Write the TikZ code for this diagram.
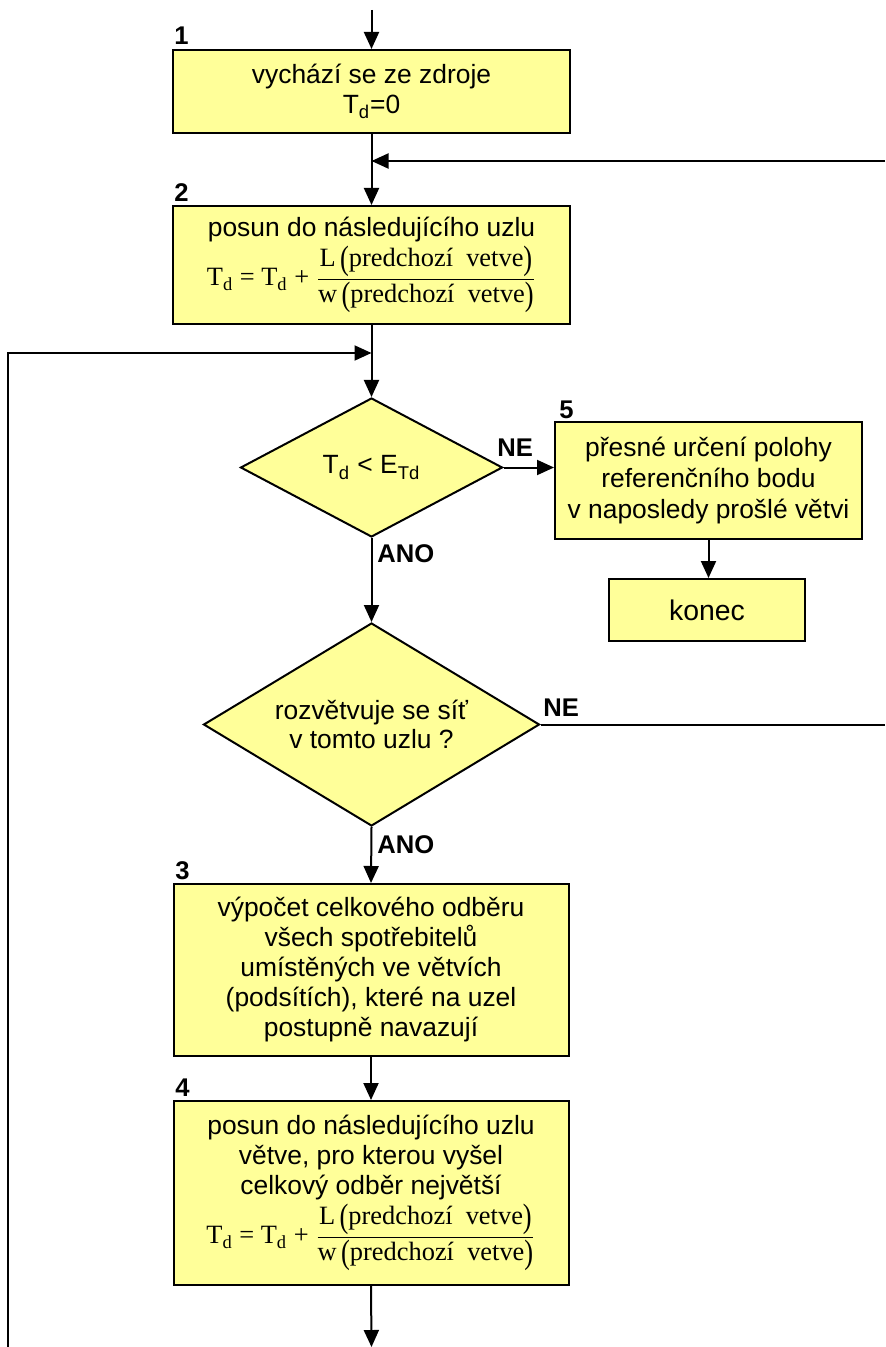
\documentclass[tikz,border=0pt]{standalone}
\usepackage{fontspec}
\usepackage{graphicx}
\setmainfont{Liberation Sans}
\newfontfamily\tnr{Liberation Serif}
\usetikzlibrary{shapes.geometric,arrows.meta}
\definecolor{boxfill}{RGB}{255,255,153}

% taller parentheses for the fraction
\newcommand\bpar[1]{\raisebox{-0.12em}{\scalebox{1}[1.28]{#1}}}
% T_d = T_d + L(...)/w(...)
\newcommand\tdformula{$\displaystyle\hbox{\tnr T\textsubscript{d} = T\textsubscript{d} + }%
\frac{\hbox{\tnr L\,\bpar{(}predchozí\enspace vetve\bpar{)}}\rule[-2.5pt]{0pt}{1pt}}%
{\hbox{\tnr w\,\bpar{(}predchozí\enspace vetve\bpar{)}}}$}

\tikzset{
  proc/.style={draw, line width=1pt, fill=boxfill, rectangle, inner sep=0pt,
    align=center, font=\fontsize{13.2}{15}\selectfont},
  dec/.style={draw, line width=1pt, fill=boxfill, diamond, inner sep=0pt,
    align=center, font=\fontsize{13.2}{14.6}\selectfont},
  arr/.style={-{Triangle[length=8.5pt,width=7.5pt]}, line width=1pt},
  flow/.style={line width=1pt},
  lbl/.style={font=\fontsize{12.8}{14}\selectfont\bfseries, inner sep=0pt, anchor=base west},
}

\begin{document}
\begin{tikzpicture}[x=0.5pt,y=-0.5pt]
\useasboundingbox (0,0) rectangle (885,1347);

% process boxes
\node[proc, minimum width=198.5pt, minimum height=41.5pt] (b1) at (371.5,91.5)
  {vychází se ze zdroje\\T\textsubscript{d}=0};
\node[proc, minimum width=198.5pt, minimum height=59pt] (b2) at (371.5,265)
  {posun do následujícího uzlu\\[1pt]\tdformula};
\node[proc, minimum width=197.5pt, minimum height=86pt] (b3) at (371,970)
  {výpočet celkového odběru\\všech spotřebitelů\\umístěných ve větvích\\(podsítích), které na uzel\\postupně navazují};
\node[proc, minimum width=197.5pt, minimum height=92pt] (b4) at (371,1193)
  {posun do následujícího uzlu\\větve, pro kterou vyšel\\celkový odběr největší\\[1pt]\tdformula};
\node[proc, minimum width=153.5pt, minimum height=58.5pt, font=\fontsize{13.2}{15.5}\selectfont] (b5) at (708.5,480.5)
  {přesné určení polohy\\referenčního bodu\\v naposledy prošlé větvi};
\node[proc, minimum width=98pt, minimum height=31pt, font=\fontsize{14.2}{16}\selectfont] (end) at (707,610)
  {konec};

% decisions
\node[dec, minimum width=131pt, minimum height=69.5pt, aspect=1.885] (d1) at (371.5,467.5)
  {T\textsubscript{d} < E\textsubscript{Td}};
\node[dec, minimum width=168pt, minimum height=101.5pt, aspect=1.655] (d2) at (371.5,724.5)
  {rozvětvuje se síť\\v tomto uzlu ?};

% step numbers
\node[lbl] (n1) at (174,45) {1};
\node[lbl] (n2) at (174,202) {2};
\node[lbl] (n3) at (175,879) {3};
\node[lbl] (n4) at (175,1096) {4};
\node[lbl] (n5) at (559,418) {5};

% branch labels
\node[lbl] (ne1) at (497,457) {NE};
\node[lbl] (ano1) at (377,562) {ANO};
\node[lbl] (ne2) at (543,716) {NE};
\node[lbl] (ano2) at (377,853) {ANO};

% free ends of connectors
\coordinate (top) at (371.5,10);
\coordinate (rin) at (885,161);
\coordinate (j1) at (371.5,161);
\coordinate (lb) at (8,1347);
\coordinate (lt) at (8,353);
\coordinate (j2) at (371.5,353);
\coordinate (rout) at (885,724.5);
\coordinate (bot) at (371.5,1347);

% connectors
\draw[arr] (top) -- (b1.north);
\draw[arr] (b1.south) -- (b2.north);
\draw[arr] (rin) -- (j1);
\draw[arr] (b2.south) -- (d1.north);
\draw[arr] (lb) -- (lt) -- (j2);
\draw[arr] (d1.east) -- (d1.east -| b5.west);
\draw[arr] (b5.south) -- (b5.south |- end.north);
\draw[arr] (d1.south) -- (d2.north);
\draw[flow] (d2.east) -- (rout);
\draw[arr] (d2.south) -- (b3.north);
\draw[arr] (b3.south) -- (b4.north);
\draw[arr] (b4.south) -- (bot);
\end{tikzpicture}
\end{document}
